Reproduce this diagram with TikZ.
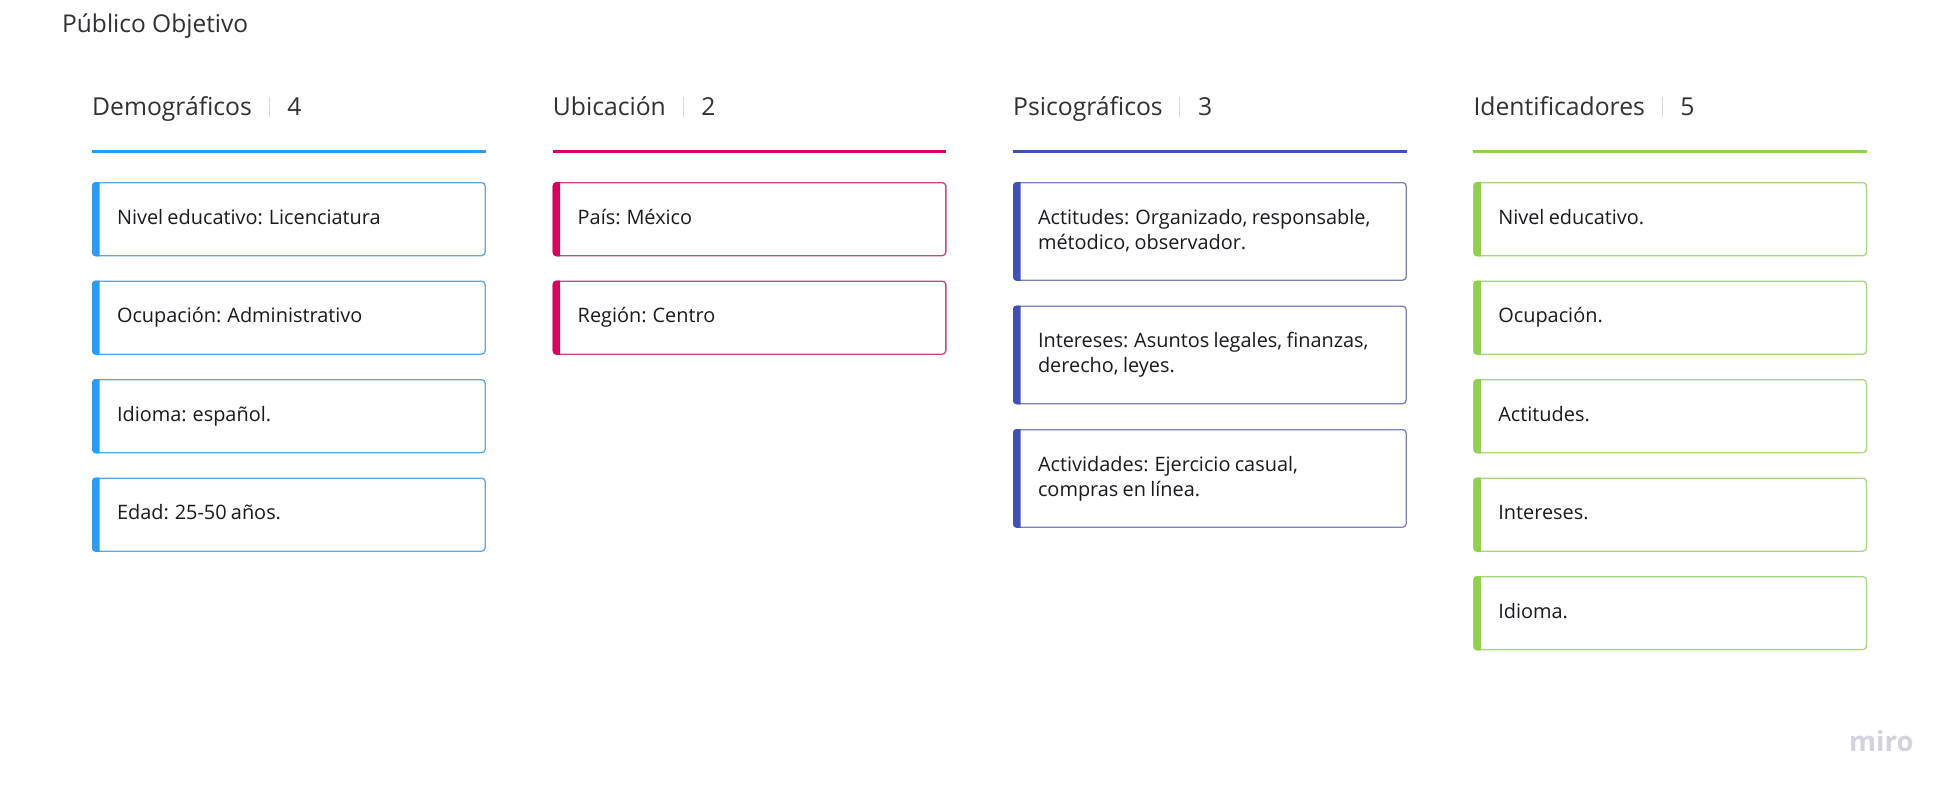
\documentclass[tikz,border=0pt]{standalone}
\usepackage{fontspec}
\setmainfont{Open Sans}
\newfontfamily\cardfont[WordSpace=0.82]{Open Sans}
\definecolor{cblue}{HTML}{2D9BF0}
\definecolor{cpink}{HTML}{DA0063}
\definecolor{cind}{HTML}{4150B5}
\definecolor{cgreen}{HTML}{8FD14F}
\definecolor{bblue}{HTML}{5BA8E6}
\definecolor{bpink}{HTML}{C9458A}
\definecolor{bind}{HTML}{7A80BC}
\definecolor{bgreen}{HTML}{A5D67C}
\definecolor{ink}{HTML}{1A1A1F}
\definecolor{miroc}{HTML}{D3D3DF}
\tikzset{
  card/.style={draw=#1,line width=1.3pt,rounded corners=3.5pt,anchor=north west,minimum width=392.5pt,inner sep=0pt,fill=white},
  cardtxt/.style={anchor=base west,font=\cardfont\fontsize{19.9}{25}\selectfont,align=left,text=ink,inner sep=0pt},
  head/.style={anchor=base west,font=\fontsize{24.7}{28}\selectfont,text=ink!90,inner sep=0pt},
  rulel/.style={line width=2.5pt},
  sep/.style={draw=black!15,line width=1pt}
}
% [baseline], name, x, y, h, accent, border, text
\newcommand{\mycard}[8][42.3]{%
  \node[card=#7,minimum height=#5pt] (#2) at (#3,#4) {};
  \fill[#6] ([xshift=7.5pt]#2.north west) [rounded corners=3.5pt] -- (#2.north west) -- (#2.south west) [sharp corners] -- ([xshift=7.5pt]#2.south west) -- cycle;
  \node[cardtxt] (#2t) at ([xshift=24.8pt,yshift=-#1pt]#2.north west) {#8};
}
% name, x, head, count, color
\newcommand{\myhead}[5]{%
  \node[head] (#1h) at (#2,116) {#3};
  \node[head,anchor=base west] (#1n) at ([xshift=35pt]#1h.base east) {#4};
  \coordinate (#1s) at ([xshift=17pt,yshift=-1pt]#1h.base east);
  \coordinate (#1e) at ([xshift=17pt,yshift=19pt]#1h.base east);
  \draw[sep] (#1s) -- (#1e);
  \coordinate (#1a) at (#2,151.5);
  \coordinate (#1b) at (#2+393.5,151.5);
  \draw[rulel,#5] (#1a) -- (#1b);
}
\begin{document}
\begin{tikzpicture}[x=1pt,y=-1pt]
\useasboundingbox (0,0) rectangle (1959,797);
\fill[white] (0,0) rectangle (1959,797);
\node[head,font=\fontsize{24.5}{28}\selectfont] (title) at (62,33) {Público Objetivo};
\myhead{a}{92}{Demográficos}{4}{cblue}
\myhead{b}{552.7}{Ubicación}{2}{cpink}
\myhead{c}{1013}{Psicográficos}{3}{cind}
\myhead{d}{1473.3}{Identificadores}{5}{cgreen}
\mycard{a1}{92}{182}{73}{cblue}{bblue}{Nivel educativo: Licenciatura}
\mycard{a2}{92}{280.5}{73}{cblue}{bblue}{Ocupación: Administrativo}
\mycard{a3}{92}{379}{73}{cblue}{bblue}{Idioma: español.}
\mycard{a4}{92}{477.5}{73}{cblue}{bblue}{Edad: 25-50 años.}
\mycard{b1}{552.7}{182}{73}{cpink}{bpink}{País: México}
\mycard{b2}{552.7}{280.5}{73}{cpink}{bpink}{Región: Centro}
\mycard[67.3]{c1}{1013}{182}{97.5}{cind}{bind}{Actitudes: Organizado, responsable,\\métodico, observador.}
\mycard[67.3]{c2}{1013}{305.5}{97.5}{cind}{bind}{Intereses: Asuntos legales, finanzas,\\derecho, leyes.}
\mycard[67.3]{c3}{1013}{429}{97.5}{cind}{bind}{Actividades: Ejercicio casual,\\compras en línea.}
\mycard{d1}{1473.3}{182}{73}{cgreen}{bgreen}{Nivel educativo.}
\mycard{d2}{1473.3}{280.5}{73}{cgreen}{bgreen}{Ocupación.}
\mycard{d3}{1473.3}{379}{73}{cgreen}{bgreen}{Actitudes.}
\mycard{d4}{1473.3}{477.5}{73}{cgreen}{bgreen}{Intereses.}
\mycard{d5}{1473.3}{576}{73}{cgreen}{bgreen}{Idioma.}
\node[anchor=base west,inner sep=0pt,text=miroc,font=\fontsize{27.5}{30}\selectfont\bfseries] (miro) at (1849,751) {miro};
\end{tikzpicture}
\end{document}
